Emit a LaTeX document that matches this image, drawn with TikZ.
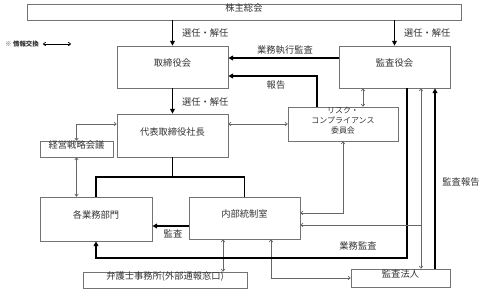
\documentclass[tikz,border=0pt]{standalone}
\usepackage{fontspec}
\setmainfont{Noto Sans CJK JP}
\usetikzlibrary{arrows.meta,fit}

\begin{document}
\begin{tikzpicture}[x=0.3mm,y=-0.3mm,font=\fontsize{7.9}{9.5}\selectfont,
	box/.style={draw=gray!90!black, line width=0.6pt, inner sep=0pt, text=black!80},
	lbl/.style={text=black!80},
	thkl/.style={line width=1.4pt},
	thk/.style={thkl, -{Triangle[length=4pt,width=4pt]}},
	thn1/.style={draw=gray!80!black, line width=0.6pt, -{To[length=2.5pt,width=3.5pt]}},
	thn/.style={thn1, {To[length=2.5pt,width=3.5pt]}-{To[length=2.5pt,width=3.5pt]}}]

	\useasboundingbox (0,0) rectangle (484,292);

	% Legenda
	\node[anchor=west, font=\fontsize{5.5}{6}\selectfont\bfseries, text=black!80] (legend) at (1,44) {※ 情報交換};
	\coordinate (legendEnd) at (71,44);
	\draw[thn, draw=black] (legend.east) -- (legendEnd);

	% Box
	\node[box, fit={(27,4) (461,20)}] (soukai) {株主総会};
	\node[box, fit={(117,46) (228,88)}] (torishimari) {取締役会};
	\node[box, fit={(339,46) (450,88)}] (kansayaku) {監査役会};
	\node[box, fit={(117,114) (228,157)}] (daihyo) {代表取締役社長};
	\node[box, fit={(288,107) (398,141)}, align=center, font=\fontsize{6.8}{8.8}\selectfont] (risk) {リスク・\\コンプライアンス\\委員会};
	\node[box, fit={(40,141) (113,157)}] (keiei) {経営戦略会議};
	\node[box, fit={(40,197) (152,241)}] (kakugyomu) {各業務部門};
	\node[box, fit={(189,197) (300,239)}] (naibu) {内部統制室};
	\node[box, fit={(83,272) (247,288)}] (bengoshi) {弁護士事務所(外部通報窓口)};
	\node[box, fit={(351,269) (450,287)}] (hojin) {監査法人};

	% Nomine
	\draw[thk] (soukai.south -| torishimari.north) -- (torishimari.north);
	\node[lbl, anchor=west] (senninA) at (178,33) {選任・解任};
	\draw[thk] (soukai.south -| kansayaku.north) -- (kansayaku.north);
	\node[lbl, anchor=west] (senninB) at (400,33) {選任・解任};
	\draw[thk] (torishimari.south) -- (daihyo.north);
	\node[lbl, anchor=west] (senninC) at (178,102) {選任・解任};

	% Audit / report verso il CdA
	\coordinate (execAudit) at (339,58);
	\draw[thk] (kansayaku.west |- execAudit) -- (torishimari.east |- execAudit);
	\node[lbl] (execLbl) at (285,50) {業務執行監査};
	\coordinate (report) at (317,76);
	\draw[thk] (risk.north -| report) |- (torishimari.east |- report);
	\node[lbl] (reportLbl) at (276,85) {報告};

	% Scambio informazioni
	\draw[thn] (daihyo.east |- risk.west) -- (risk.west);
	\coordinate (riskUp) at (363,0);
	\draw[thn] (kansayaku.south -| riskUp) -- (risk.north -| riskUp);
	\draw[thn] (keiei.north) |- (daihyo.west |- risk.west);
	\draw[thn] (keiei.south) -- (keiei.south |- kakugyomu.north);
	\coordinate (lawyer) at (223,0);
	\draw[thn] (naibu.south -| lawyer) -- (bengoshi.north -| lawyer);
	\coordinate (toHojin) at (271,0);
	\draw[thn] (naibu.south -| toHojin) |- (hojin.west);
	\coordinate (riskDown) at (0,213);
	\draw[thn] (risk.south) |- (naibu.east |- riskDown);

	% Linea di comando
	\coordinate (bus) at (0,177);
	\draw[thkl] (daihyo.south) -- (daihyo.south |- bus);
	\draw[thkl] (kakugyomu.north) |- (naibu.north |- bus) -- (naibu.north);
	\coordinate (inAudit) at (0,226);
	\draw[thk] (naibu.west |- inAudit) -- (kakugyomu.east |- inAudit);
	\node[lbl] (auditLbl) at (173,234) {監査};

	% Collegio sindacale e revisore
	\coordinate (bizAudit) at (407,258);
	\draw[thk] (kansayaku.south -| bizAudit) |- (kakugyomu.south |- bizAudit) -- (kakugyomu.south);
	\node[lbl] (bizLbl) at (358,246) {業務監査};
	\coordinate (hojinLink) at (421,225);
	\draw[thn] (kansayaku.south -| hojinLink) -- (hojin.north -| hojinLink);
	\draw[thn1] (hojinLink) -- (naibu.east |- hojinLink);
	\coordinate (hojinRep) at (435,0);
	\draw[thk] (hojin.north -| hojinRep) -- (kansayaku.south -| hojinRep);
	\node[lbl] (hojinLbl) at (461,182) {監査報告};
\end{tikzpicture}
\end{document}
